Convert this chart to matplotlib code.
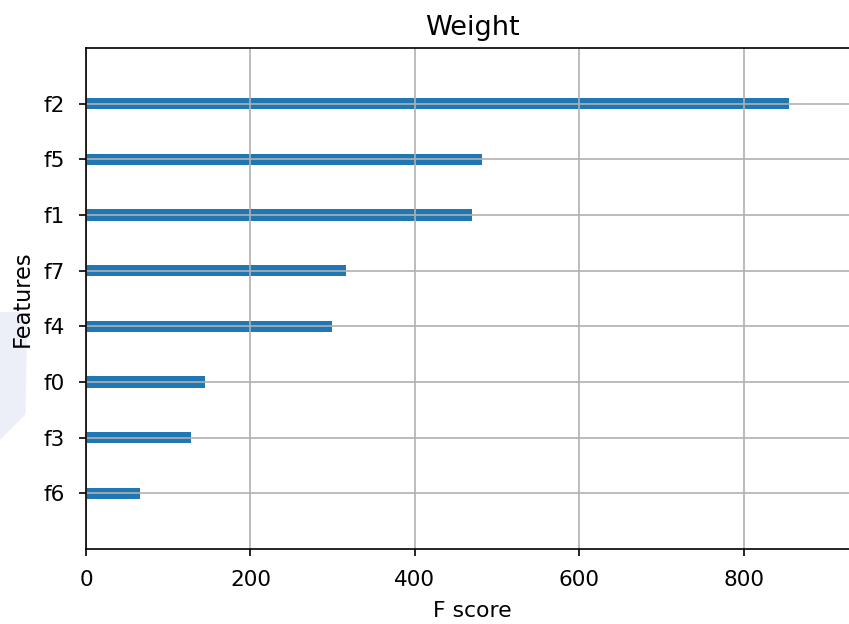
import matplotlib.pyplot as plt
from matplotlib.patches import Polygon

# feature importance (weight) per feature
features = ["f6", "f3", "f0", "f4", "f7", "f1", "f5", "f2"]
f_scores = [66, 128, 145, 299, 316, 470, 482, 855]


def main():
    fig = plt.figure(figsize=(5.66, 4.16), dpi=150)

    # faint mark at the left edge of the page
    mark = Polygon([(0.0, 0.50), (0.022, 0.50), (0.032, 0.487), (0.030, 0.336),
                    (0.0, 0.295)], closed=True, transform=fig.transFigure,
                   facecolor="#eceff8", edgecolor="none", zorder=-1)
    fig.patches.append(mark)

    # axes run past the right border, as in a cropped notebook output
    ax = fig.add_axes([0.1013, 0.1202, 0.9105, 0.8029])
    ax.patch.set_alpha(0)
    ylocs = list(range(len(features)))
    ax.barh(ylocs, f_scores, align="center", height=0.2)
    ax.set_yticks(ylocs)
    ax.set_yticklabels(features)
    ax.set_xlim(0, max(f_scores) * 1.1)
    ax.set_ylim(-1, len(features))
    ax.tick_params(axis="both", pad=6.5, labelsize=10.3)
    ax.set_title("Weight", fontsize=13)
    ax.set_xlabel("F score", fontsize=10.5, labelpad=5.5)
    ax.set_ylabel("Features", fontsize=10.8, labelpad=5)
    ax.grid()

    fig.savefig("out.png", dpi=150)
    plt.close(fig)


if __name__ == "__main__":
    main()
